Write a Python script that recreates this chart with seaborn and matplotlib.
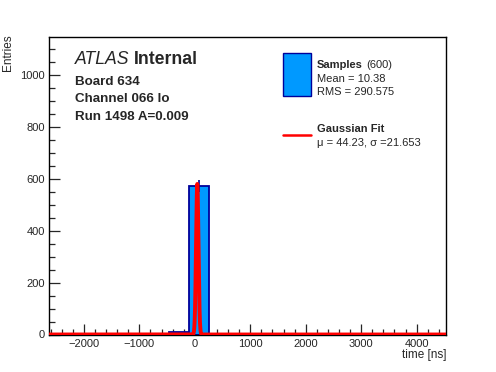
import numpy as np
import pandas as pd
import seaborn as sns
import matplotlib
matplotlib.use("Agg")
import matplotlib.pyplot as plt
from matplotlib.patches import Rectangle
from matplotlib.lines import Line2D

# ---- data ----
bin_edges = [-2630, -2270, -1910, -1550, -1190, -830, -470, -110, 250, 610, 970,
             1330, 1690, 2050, 2410, 2770, 3130, 3490, 3850, 4210, 4570]
bin_counts = [0, 0, 0, 0, 0, 0, 8, 572, 0, 0, 0, 0, 0, 0, 0, 0, 0, 0, 0, 0]
fit_mu = 44.23
fit_sigma = 21.653
fit_amp = 580.0
n_entries = 600
mean_val = 10.38
rms_val = 290.575
x_ticks = [-2000, -1000, 0, 1000, 2000, 3000, 4000]
y_ticks = [0, 200, 400, 600, 800, 1000]
info_lines = ["Board 634", "Channel 066 lo", "Run 1498 A=0.009"]

sns.set_style("ticks")
plt.rcParams['font.family'] = ['Liberation Sans', 'DejaVu Sans']

W, H = 496, 372
fig = plt.figure(figsize=(W / 100, H / 100), dpi=100)
ax = fig.add_axes([49 / W, 1 - 334.5 / H, (446 - 49) / W, (334.5 - 37) / H])

edges = np.array(bin_edges, dtype=float)
centers = 0.5 * (edges[:-1] + edges[1:])
df = pd.DataFrame({"time": centers, "count": np.array(bin_counts, dtype=float)})

sns.histplot(data=df, x="time", weights="count", bins=list(bin_edges), ax=ax,
             stat="count", color="#0099ff", edgecolor="#00009a",
             linewidth=1.3, alpha=1.0)

# error bars
cnt = np.array(bin_counts, dtype=float)
m = cnt > 0
ax.errorbar(centers[m], cnt[m], yerr=np.sqrt(cnt[m]), fmt="none",
            ecolor="#00009a", elinewidth=1.2, capsize=0, zorder=3)

# Gaussian fit curve
xf = np.linspace(bin_edges[0], bin_edges[-1], 6000)
yf = fit_amp * np.exp(-0.5 * ((xf - fit_mu) / fit_sigma) ** 2)
ax.plot(xf, yf, color="red", linewidth=2.8, zorder=4)

ax.set_xlim(-2630, 4530)
ax.set_ylim(0, 1146)
ax.set_xticks(x_ticks)
ax.set_yticks(y_ticks)
ax.set_xticklabels([f"{t}".replace("-", "\u2212") for t in x_ticks])
ax.set_xticks(np.arange(-2600, 4530, 200), minor=True)
ax.set_yticks(np.arange(0, 1146, 50), minor=True)
ax.tick_params(axis="both", which="major", direction="in", length=8,
               width=0.9, labelsize=8, pad=3, top=False, right=False)
ax.tick_params(axis="both", which="minor", direction="in", length=4,
               width=0.9, top=False, right=False)
for s in ax.spines.values():
    s.set_linewidth(1.0)
    s.set_color("black")
    s.set_visible(True)
ax.set_xlabel("")
ax.set_ylabel("")

fig.text(8 / W, 1 - 34 / H, "Entries", rotation=90, ha="center", va="top",
         fontsize=8.5)
fig.text(446 / W, 1 - 358 / H, "time [ns]", ha="right", va="baseline",
         fontsize=8.5)

# ATLAS label
t = fig.text(75 / W, 1 - 64 / H, "ATLAS", style="italic", fontsize=12.7,
             ha="left", va="baseline")
fig.canvas.draw()
bb = t.get_window_extent()
fig.text((bb.x1 + 4) / W, 1 - 64 / H, "Internal", weight="bold",
         fontsize=12.7, ha="left", va="baseline")
for i, line in enumerate(info_lines):
    fig.text(75 / W, 1 - (85 + 17.5 * i) / H, line, weight="bold",
             fontsize=9.6, ha="left", va="baseline")

# legend (manual)
fig.patches.append(Rectangle((283 / W, 1 - 96 / H), 28 / W, 43 / H,
                             transform=fig.transFigure, facecolor="#0099ff",
                             edgecolor="#00009a", linewidth=1.0))
t2 = fig.text(317 / W, 1 - 68 / H, "Samples", weight="bold", fontsize=8,
              ha="left", va="baseline")
fig.canvas.draw()
bb2 = t2.get_window_extent()
fig.text((bb2.x1 + 3) / W, 1 - 68 / H, f"({n_entries})", fontsize=8,
         ha="left", va="baseline")
fig.text(317 / W, 1 - 82 / H, f"Mean = {mean_val:.2f}", fontsize=8,
         ha="left", va="baseline")
fig.text(317 / W, 1 - 95 / H, f"RMS = {rms_val:.3f}", fontsize=8,
         ha="left", va="baseline")
fig.lines.append(Line2D([283 / W, 311 / W], [1 - 135 / H, 1 - 135 / H],
                        transform=fig.transFigure, color="red", linewidth=1.8))
fig.text(317 / W, 1 - 132 / H, "Gaussian Fit", weight="bold", fontsize=8,
         ha="left", va="baseline")
fig.text(317 / W, 1 - 146 / H, f"\u03bc = {fit_mu:.2f}, \u03c3 ={fit_sigma:.3f}",
         fontsize=8, ha="left", va="baseline")

fig.savefig("out.png", dpi=100, facecolor="white")
